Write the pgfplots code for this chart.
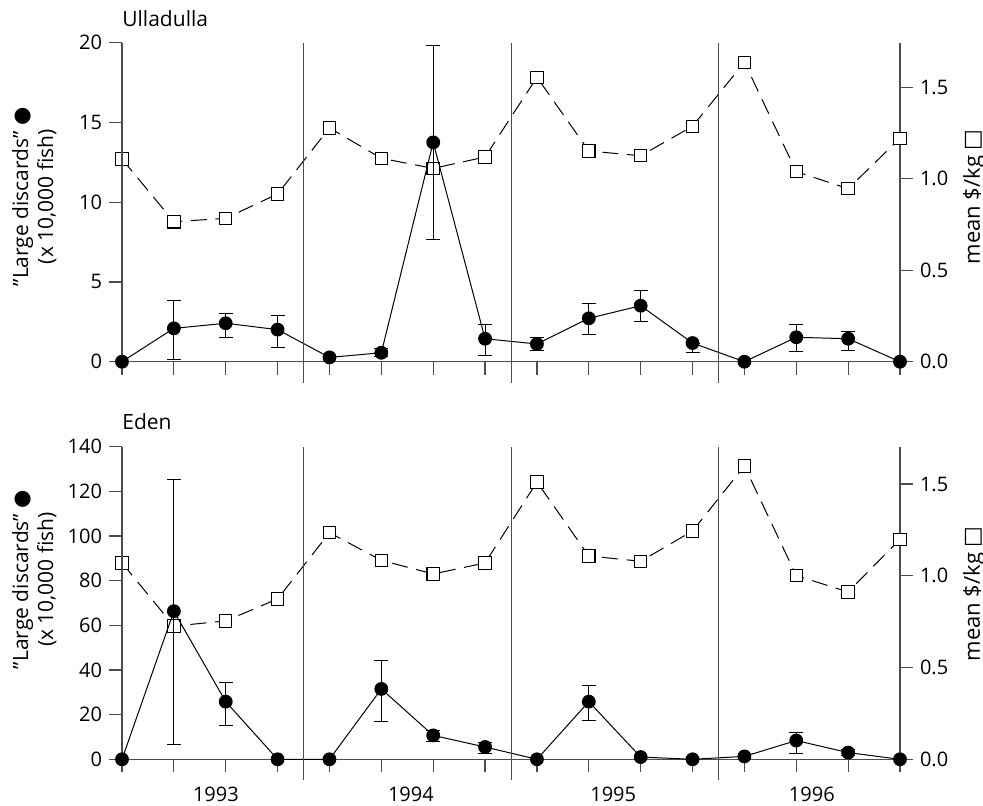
\documentclass[border=0pt]{standalone}
\usepackage{fontspec}
\setmainfont{Open Sans}
\newfontfamily\dejavu{DejaVu Sans}
\usepackage{pgfplots}
\pgfplotsset{compat=1.18}
\usepackage{pgfplotstable}
\definecolor{axc}{gray}{0.3}

\pgfplotstableread{
x y
0 1.108
1 0.765
2 0.784
3 0.917
4 1.278
5 1.112
6 1.057
7 1.119
8 1.555
9 1.152
10 1.126
11 1.287
12 1.637
13 1.039
14 0.946
15 1.221
}\ullsq

\pgfplotstableread{
x y
0 0
1 2.09
2 2.41
3 2.01
4 0.27
5 0.56
6 13.75
7 1.44
8 1.11
9 2.72
10 3.51
11 1.17
12 0
13 1.53
14 1.44
15 0
}\ullci

\pgfplotstableread{
x y ep em
1 2.09 1.74 1.94
2 2.41 0.60 0.92
3 2.01 0.90 1.11
5 0.56 0.24 0.25
6 13.75 6.06 6.12
7 1.44 0.92 1.08
8 1.11 0.38 0.38
9 2.72 0.90 1.03
10 3.51 0.94 0.96
11 1.17 0.0 0.58
13 1.53 0.81 0.92
14 1.44 0.44 0.71
}\ullerr

\pgfplotstableread{
x y
0 1.070
1 0.726
2 0.754
3 0.874
4 1.235
5 1.084
6 1.010
7 1.070
8 1.511
9 1.108
10 1.079
11 1.244
12 1.598
13 1.001
14 0.912
15 1.199
}\edsq

\pgfplotstableread{
x y
0 0
1 66.3
2 25.8
3 0
4 0
5 31.5
6 10.7
7 5.5
8 0
9 25.8
10 1.0
11 0
12 1.3
13 8.4
14 3.0
15 0
}\edci

\pgfplotstableread{
x y ep em
1 66.3 59.1 59.6
2 25.8 8.5 10.8
5 31.5 12.8 14.5
6 10.7 2.1 2.6
7 5.5 2.2 3.1
9 25.8 7.2 8.5
13 8.4 3.5 6.0
14 3.0 1.2 1.2
}\ederr

\tikzset{yr/.style={anchor=base, inner sep=0, font=\fontsize{10bp}{12bp}\selectfont}}

\pgfplotsset{
  every axis title shift=0pt,
  base/.style={scale only axis, width=389bp, xmin=0, xmax=15, clip=false,
    /pgf/number format/assume math mode=true,
    tick align=outside, major tick length=6.5bp,
    axis line style={axc, line width=0.6bp},
    every tick/.style={axc, line width=0.6bp},
    ticklabel style={font=\fontsize{10bp}{12bp}\selectfont},
    label style={font=\fontsize{10.5bp}{12.5bp}\selectfont},
  },
  rightax/.style={base, axis y line*=right, axis x line=none,
    ymin=0, ytick={0,0.5,1,1.5}, scaled y ticks=false,
    yticklabel style={/pgf/number format/.cd, fixed, fixed zerofill, precision=1},
    ylabel={mean \$/kg {\dejavu □}},
  },
  leftax/.style={base, axis x line*=bottom, axis y line*=left,
    ymin=0, xtick={0,...,15}, xticklabels={},
    ylabel={”Large discards” {\dejavu ●}\\(x 10,000 fish)},
    title style={at={(axis description cs:0,1)}, anchor=base west, inner sep=0,
      yshift=8.3bp, font=\fontsize{10.5bp}{12.5bp}\selectfont},
  },
  sqstyle/.style={black, line width=0.5bp, dash pattern=on 8bp off 4.3bp,
    mark=square*, mark size=3.1bp,
    mark options={solid, fill=white, draw=black, line width=0.55bp}},
  cistyle/.style={black, line width=0.5bp, mark=*, mark size=3.2bp,
    mark options={fill=black, solid}},
  errstyle/.style={only marks, mark=none,
    error bars/.cd, y dir=both, y explicit,
    error bar style={black, line width=0.5bp, solid},
    error mark options={black, line width=0.5bp, mark size=3.5bp, rotate=90}},
}

\begin{document}
\begin{tikzpicture}
\path[use as bounding box] (0,0) rectangle (491.5bp,403bp);

% ---------- Ulladulla ----------
\begin{axis}[rightax, at={(61bp,222.15bp)}, anchor=south west, height=159.5bp,
  ymax=1.744,
  ylabel style={at={(axis description cs:1.1028,0.517)}, anchor=base, inner sep=0,
    font=\fontsize{11bp}{13bp}\selectfont}]
\addplot[sqstyle] table[x=x,y=y] {\ullsq};
\end{axis}

\begin{axis}[leftax, at={(61bp,222.15bp)}, anchor=south west, height=159.5bp,
  ymax=20, ytick={0,5,10,15,20},
  title={Ulladulla},
  ylabel style={at={(axis description cs:-0.0839,0.517)}, anchor=south, align=center, inner sep=0}]
\addplot[errstyle] table[x=x,y=y,y error plus=ep,y error minus=em] {\ullerr};
\addplot[cistyle] table[x=x,y=y] {\ullci};
\draw[axc, line width=0.6bp] ([yshift=-10.5bp]axis cs:3.5,0) -- (axis cs:3.5,20);
\draw[axc, line width=0.6bp] ([xshift=0.25bp,yshift=-10.5bp]axis cs:7.5,0) -- ([xshift=0.25bp]axis cs:7.5,20);
\draw[axc, line width=0.6bp] ([yshift=-10.5bp]axis cs:11.5,0) -- (axis cs:11.5,20);
\end{axis}

% ---------- Eden ----------
\begin{axis}[rightax, at={(61bp,23.35bp)}, anchor=south west, height=156.35bp,
  ymax=1.704,
  ylabel style={at={(axis description cs:1.1028,0.529)}, anchor=base, inner sep=0,
    font=\fontsize{11bp}{13bp}\selectfont}]
\addplot[sqstyle] table[x=x,y=y] {\edsq};
\end{axis}

\begin{axis}[leftax, at={(61bp,23.35bp)}, anchor=south west, height=156.35bp,
  ymax=140, ytick={0,20,...,140},
  title={Eden},
  ylabel style={at={(axis description cs:-0.0839,0.575)}, anchor=south, align=center, inner sep=0}]
\addplot[errstyle] table[x=x,y=y,y error plus=ep,y error minus=em] {\ederr};
\addplot[cistyle] table[x=x,y=y] {\edci};
\draw[axc, line width=0.6bp] ([yshift=-10.5bp]axis cs:3.5,0) -- (axis cs:3.5,140);
\draw[axc, line width=0.6bp] ([xshift=0.25bp,yshift=-10.5bp]axis cs:7.5,0) -- ([xshift=0.25bp]axis cs:7.5,140);
\draw[axc, line width=0.6bp] ([yshift=-10.5bp]axis cs:11.5,0) -- (axis cs:11.5,140);
\node[yr] at ([yshift=-21.2bp]axis cs:1.81,0) {1993};
\node[yr] at ([yshift=-21.2bp]axis cs:5.57,0) {1994};
\node[yr] at ([yshift=-21.2bp]axis cs:9.47,0) {1995};
\node[yr] at ([yshift=-21.2bp]axis cs:13.3,0) {1996};
\end{axis}
\end{tikzpicture}
\end{document}
